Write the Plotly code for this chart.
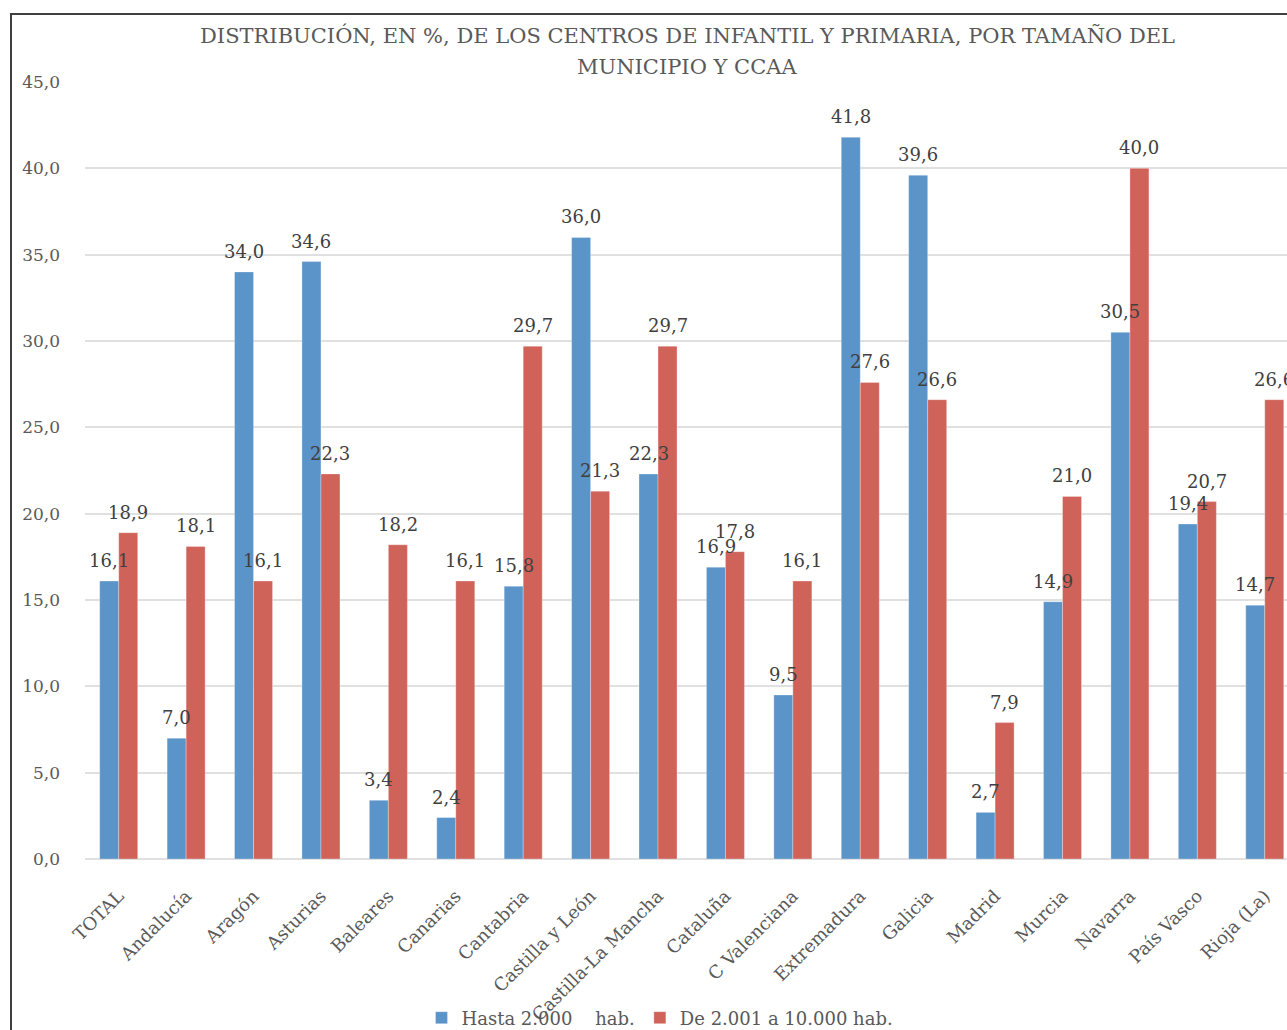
import plotly.graph_objects as go

categories = ["TOTAL", "Andalucía", "Aragón", "Asturias", "Baleares", "Canarias",
              "Cantabria", "Castilla y León", "Castilla-La Mancha", "Cataluña",
              "C Valenciana", "Extremadura", "Galicia", "Madrid", "Murcia",
              "Navarra", "País Vasco", "Rioja (La)"]
hasta_2000 = [16.1, 7.0, 34.0, 34.6, 3.4, 2.4, 15.8, 36.0, 22.3, 16.9,
              9.5, 41.8, 39.6, 2.7, 14.9, 30.5, 19.4, 14.7]
de_2001_10000 = [18.9, 18.1, 16.1, 22.3, 18.2, 16.1, 29.7, 21.3, 29.7, 17.8,
                 16.1, 27.6, 26.6, 7.9, 21.0, 40.0, 20.7, 26.6]
series_names = ["Hasta 2.000    hab.", "De 2.001 a 10.000 hab."]
title_lines = ["DISTRIBUCIÓN, EN %, DE LOS CENTROS DE INFANTIL Y PRIMARIA, POR TAMAÑO DEL",
               "MUNICIPIO Y CCAA"]
y_ticks = [0, 5, 10, 15, 20, 25, 30, 35, 40, 45]

FONT = "DejaVu Serif"
W, H = 1287, 1030
L, R, T, B = 85, 0, 82, 171
pw, ph = W - L - R, H - T - B
X_MAX = 17.33
cat_px = pw / (X_MAX + 0.5)
BARGAP = 0.436
bar_px = cat_px * (1 - BARGAP) / 2

def px_x(x):
    return (x - L) / pw

def px_y(y):
    return (H - B - y) / ph

colors = ["#5b94c8", "#cf635a"]
series = [hasta_2000, de_2001_10000]

fig = go.Figure()
for name, vals, col in zip(series_names, series, colors):
    fig.add_trace(go.Bar(
        x=categories, y=vals, name=name,
        marker=dict(color=col, line=dict(color="rgba(255,255,255,0.6)", width=0.5)),
        cliponaxis=True,
    ))

annotations = []
# data labels drawn above all bars (like Excel)
for i, vals in enumerate(series):
    sgn = -1 if i == 0 else 1
    for c, v in zip(categories, vals):
        annotations.append(dict(
            x=c, y=v, xref="x", yref="y", text=f"{v:.1f}".replace(".", ","),
            showarrow=False, xanchor="center", yanchor="bottom",
            xshift=sgn * bar_px / 2, yshift=8,
            font=dict(family=FONT, size=18, color="#404040")))
# title lines
for txt, yc in zip(title_lines, [36, 67]):
    annotations.append(dict(
        x=px_x(687), y=px_y(yc), xref="paper", yref="paper", text=txt,
        showarrow=False, xanchor="center", yanchor="middle",
        font=dict(family=FONT, size=21, color="#595959")))

fig.update_layout(
    width=W, height=H,
    margin=dict(l=L, r=R, t=T, b=B, autoexpand=False),
    paper_bgcolor="white", plot_bgcolor="white",
    separators=",.",
    barmode="group", bargap=BARGAP, bargroupgap=0,
    font=dict(family=FONT, color="#595959"),
    legend=dict(orientation="h", x=px_x(660), xanchor="center", y=px_y(1018), yanchor="middle",
                font=dict(family=FONT, size=18, color="#595959"), traceorder="normal",
                itemwidth=30, bgcolor="rgba(0,0,0,0)"),
    showlegend=True,
    annotations=annotations,
)
fig.update_xaxes(range=[-0.5, X_MAX], tickangle=-45, showgrid=False, showline=False,
                 tickfont=dict(family=FONT, size=18, color="#595959"), ticks="",
                 ticklabelstandoff=22)
fig.update_yaxes(range=[0, 45], tickvals=y_ticks, tickformat=".1f", showgrid=True,
                 gridcolor="#e0e0e0", gridwidth=1.5, zeroline=True, zerolinecolor="#e0e0e0",
                 zerolinewidth=1.5, ticklabelstandoff=24,
                 tickfont=dict(family=FONT, size=17, color="#595959"))

# chart border (left and top edges visible)
fig.add_shape(type="line", xref="paper", yref="paper",
              x0=px_x(11), x1=px_x(11), y0=px_y(14), y1=px_y(1040),
              line=dict(color="#404040", width=2))
fig.add_shape(type="line", xref="paper", yref="paper",
              x0=px_x(10), x1=px_x(1300), y0=px_y(14), y1=px_y(14),
              line=dict(color="#404040", width=2))

fig.write_html("out.html", config={"displayModeBar": False},
               post_script="document.body.style.margin='0px';")
